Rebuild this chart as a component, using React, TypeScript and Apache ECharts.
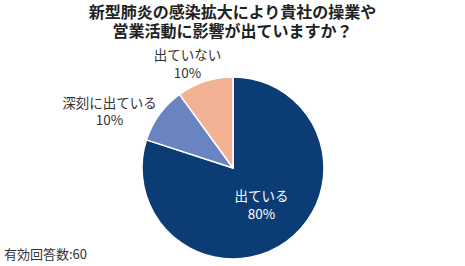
import React, { useEffect, useRef } from "react";
import * as echarts from "echarts";

const titleLines = ["新型肺炎の感染拡大により貴社の操業や", "営業活動に影響が出ていますか？"];
const categories = ["出ている", "深刻に出ている", "出ていない"];
const values = [80, 10, 10];
const colors = ["#0c3c74", "#6a84c2", "#f4b294"];
const footnote = "有効回答数:60";

// layout nudges for outside labels (relative to default placement)
const labelNudge: Record<number, [number, number]> = { 1: [12, 3], 2: [25, -7] };

export default function App() {
  const ref = useRef<HTMLDivElement>(null);
  useEffect(() => {
    document.body.style.margin = "0";
    const chart = echarts.init(ref.current!, null, { renderer: "svg" });
    chart.setOption({
      animation: false,
      title: {
        text: titleLines.join("\n"),
        left: "center",
        top: 1,
        padding: 0,
        textStyle: {
          fontFamily: "Noto Sans CJK JP",
          fontSize: 16,
          fontWeight: "bold",
          color: "#222",
          lineHeight: 19,
        },
      },
      graphic: [
        {
          type: "text",
          left: 4,
          top: 247,
          style: {
            text: footnote,
            fontFamily: "Noto Sans CJK JP",
            fontSize: 13,
            fill: "#333",
          },
        },
      ],
      series: [
        {
          type: "pie",
          center: [233, 168],
          radius: 91,
          startAngle: 90,
          clockwise: true,
          itemStyle: { borderColor: "#fff", borderWidth: 1.5 },
          label: {
            show: true,
            position: "outside",
            formatter: "{b}\n{d}%",
            fontFamily: "Noto Sans CJK JP",
            fontSize: 13.5,
            lineHeight: 17.5,
            color: "#333",
          },
          labelLine: { show: false, length: 12, length2: 0 },
          labelLayout: (params: any) => {
            const n = labelNudge[params.dataIndex];
            if (!n) return {};
            const r = params.labelRect;
            return {
              x: r.x + r.width / 2 + n[0],
              y: r.y + r.height / 2 + n[1],
              align: "center",
              verticalAlign: "middle",
            };
          },
          data: categories.map((name, i) => ({
            name,
            value: values[i],
            itemStyle: { color: colors[i] },
            label:
              i === 0
                ? { position: "inside", color: "#fff", offset: [0, -3] }
                : undefined,
          })),
        },
      ],
    });
    return () => chart.dispose();
  }, []);
  return <div ref={ref} style={{ width: 465, height: 266 }} />;
}
